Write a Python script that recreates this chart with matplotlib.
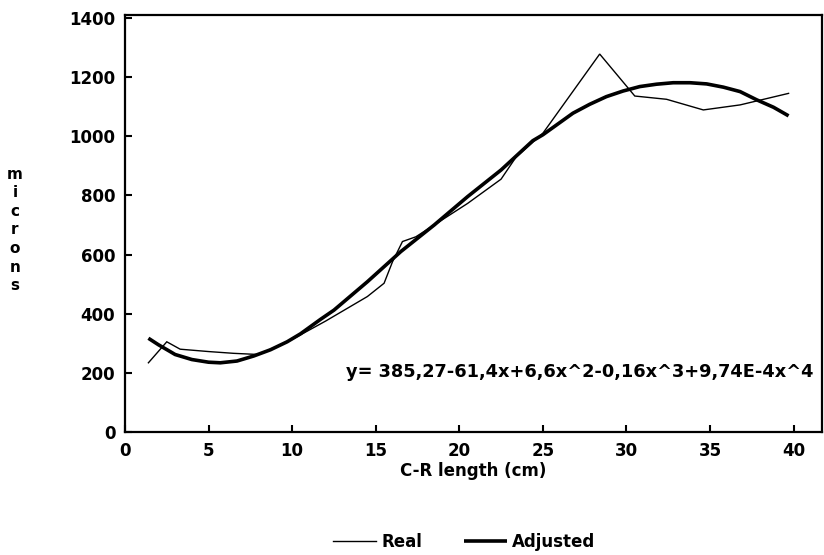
import matplotlib
matplotlib.use("Agg")
import matplotlib.pyplot as plt

# Data
real_x = [1.4, 2.5, 3.3, 5.0, 6.5, 8.0, 10.0, 12.0, 14.5, 15.5, 16.0, 16.6, 17.4,
          18.8, 20.5, 22.5, 23.4, 25.0, 28.4, 30.5, 32.4, 34.6, 36.8, 39.7]
real_y = [234, 305, 280, 272, 266, 262, 313, 375, 458, 503, 575, 644, 660,
          711, 773, 855, 930, 1010, 1278, 1136, 1125, 1089, 1106, 1145]

adj_x = [1.4, 2.0, 2.7, 3.0, 4.0, 5.0, 5.7, 6.7, 7.7, 8.7, 9.7, 10.5, 11.7, 12.5,
         14.5, 16.5, 18.5, 20.5, 22.5, 24.4, 25.0, 26.8, 27.8, 28.8, 29.8, 30.8,
         31.8, 32.8, 33.8, 34.8, 35.8, 36.8, 37.8, 38.8, 39.7]
adj_y = [317, 295, 272, 262, 245, 236, 234, 240, 257, 278, 305, 332, 381, 412,
         508, 610, 700, 796, 886, 985, 1005, 1078, 1108, 1134, 1153, 1168,
         1176, 1181, 1181, 1177, 1166, 1151, 1123, 1098, 1069]

x_ticks = [0, 5, 10, 15, 20, 25, 30, 35, 40]
y_ticks = [0, 200, 400, 600, 800, 1000, 1200, 1400]
equation = "y= 385,27-61,4x+6,6x^2-0,16x^3+9,74E-4x^4"

plt.rcParams['font.family'] = ['DejaVu Sans']
fig = plt.figure(figsize=(8.24, 5.55), dpi=100)
ax = fig.add_axes([125/824, 1-432/555, (822-125)/824, (432-15)/555])

ax.plot(real_x, real_y, color='black', lw=1.0, label='Real', solid_joinstyle='miter')
ax.plot(adj_x, adj_y, color='black', lw=2.6, label='Adjusted', solid_joinstyle='round',
        solid_capstyle='butt')

ax.set_xlim(0, 41.7)
ax.set_ylim(0, 1410)
ax.set_xticks(x_ticks)
ax.set_yticks(y_ticks)
for s in ax.spines.values():
    s.set_linewidth(1.6)
ax.tick_params(direction='in', length=5, width=1.5, labelsize=12, pad=7)
for lbl in ax.get_xticklabels() + ax.get_yticklabels():
    lbl.set_fontweight('bold')

ax.set_xlabel("C-R length (cm)", fontsize=12, fontweight='bold', labelpad=2)
fig.text(15/824, 1-230/555, "\n".join("microns"), fontsize=11, fontweight='bold',
         ha='center', va='center', linespacing=1.3)

ax.text(13.2, 203, equation, fontsize=12.8, fontweight='bold', ha='left', va='center')

fig.legend(loc='center', bbox_to_anchor=(464/824, 13/555), ncol=2, frameon=False,
           handlelength=2.6, handletextpad=0.3, columnspacing=2.5,
           prop={'size': 12, 'weight': 'bold'})

fig.savefig("out.png", dpi=100)
